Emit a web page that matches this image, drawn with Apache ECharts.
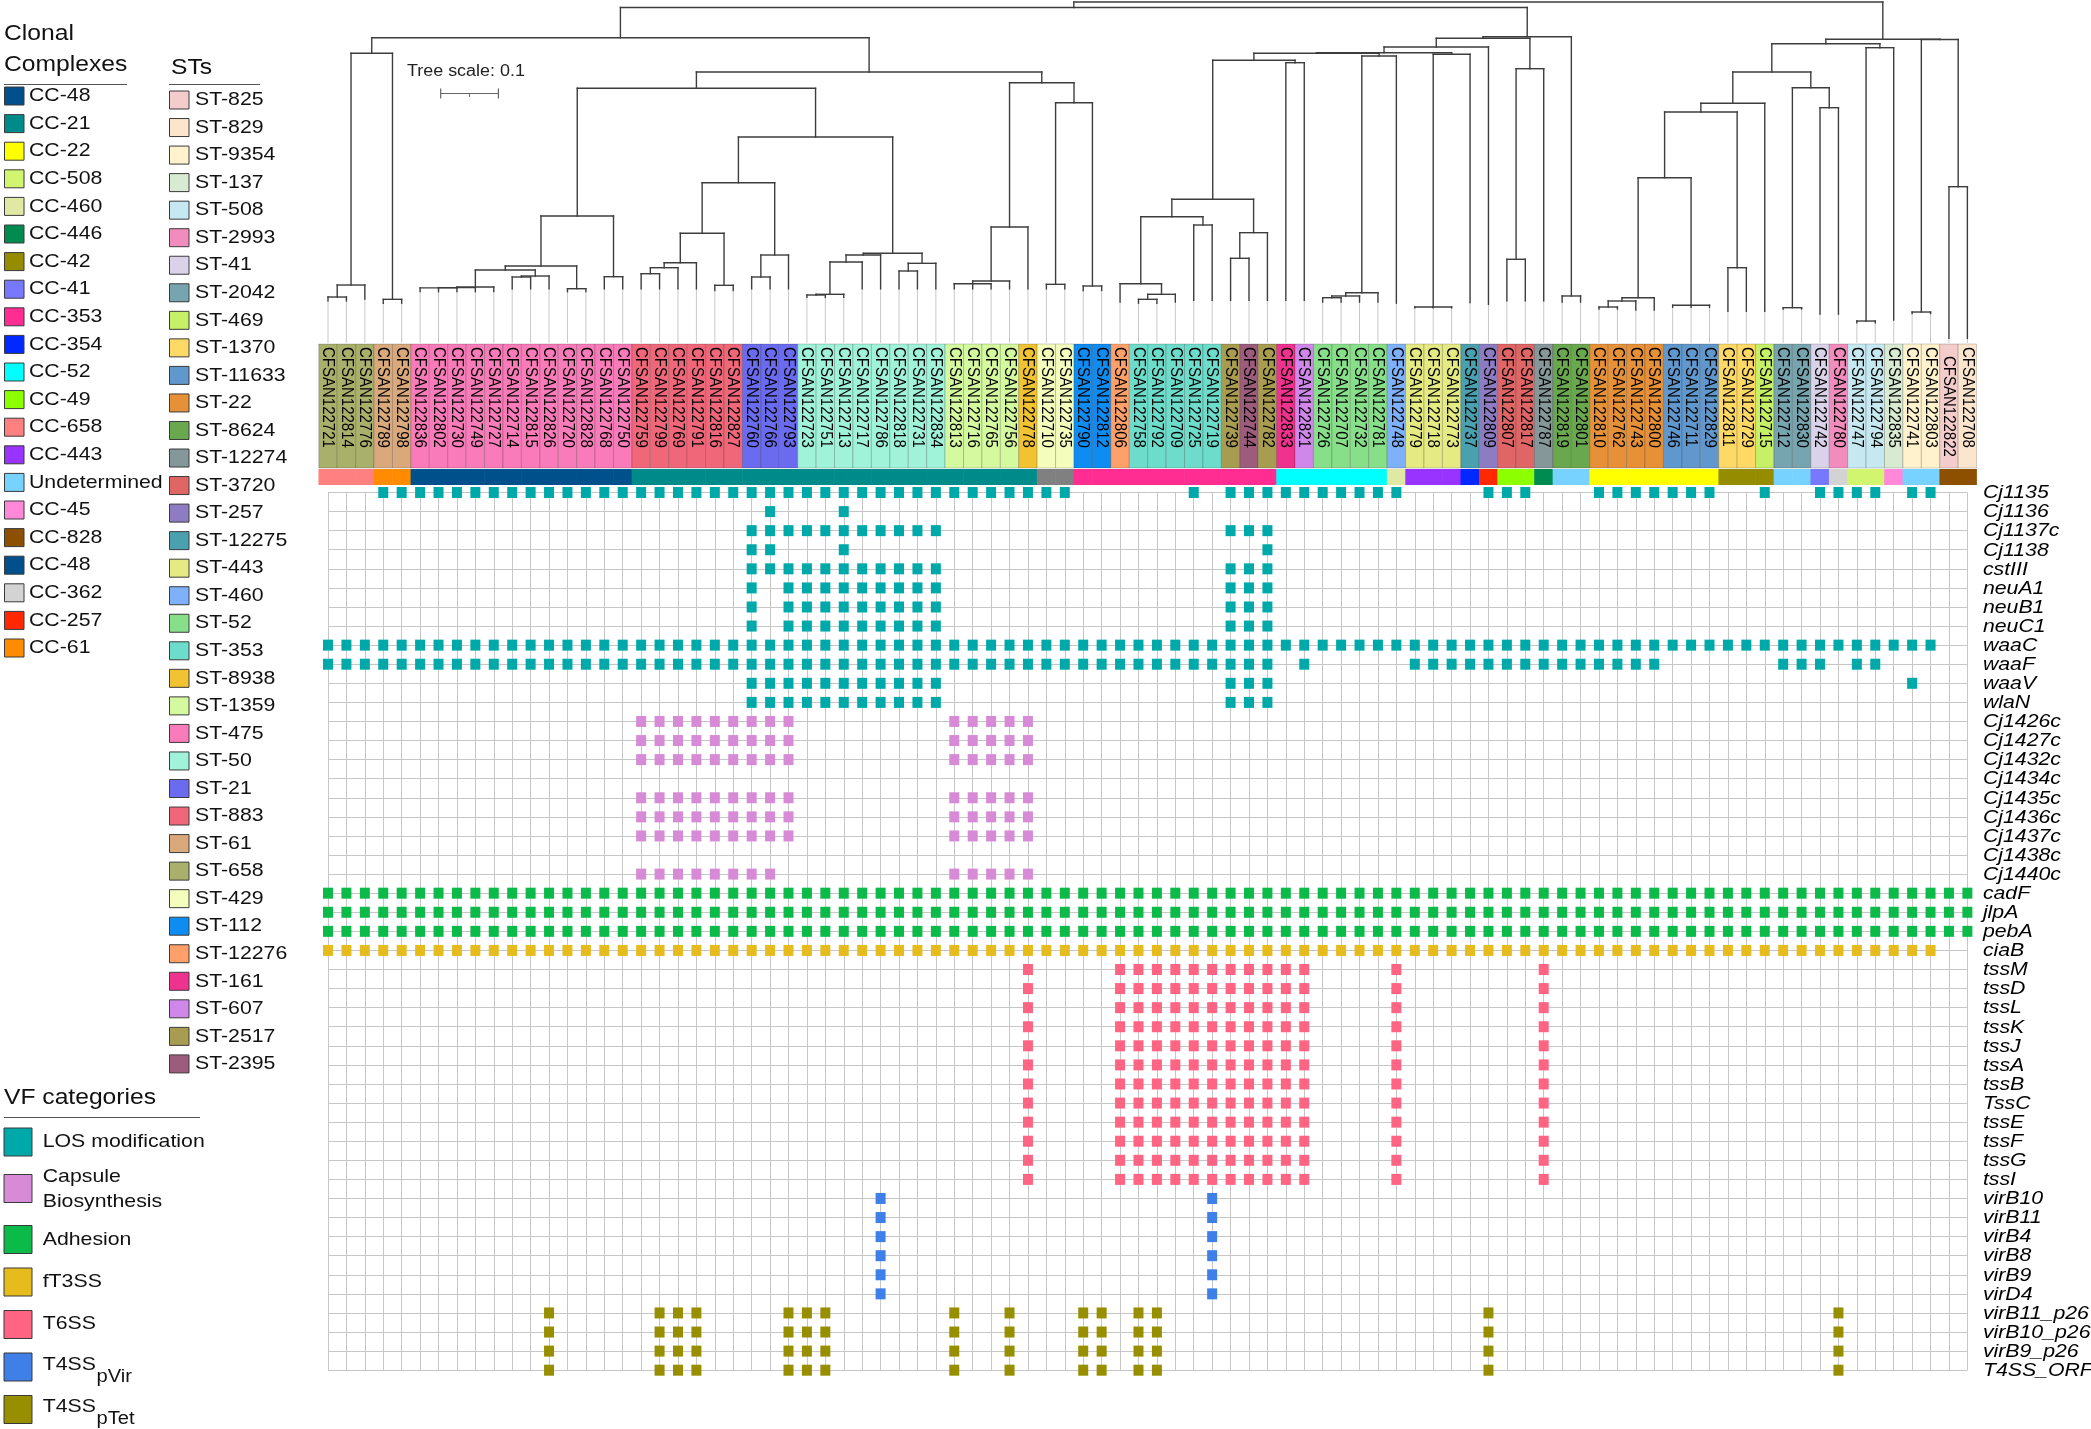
<!DOCTYPE html>
<html><head><meta charset="utf-8">
<script src="https://cdn.jsdelivr.net/npm/echarts@6/dist/echarts.min.js"></script>
<style>html,body{margin:0;padding:0;background:#fff}#c{width:2091px;height:1429px}</style>
</head><body><div id="c"></div>
<script>
// ---------------- DATA ----------------
const samples = ['CFSAN122721','CFSAN122814','CFSAN122776','CFSAN122789','CFSAN122798','CFSAN122836','CFSAN122802','CFSAN122730','CFSAN122749','CFSAN122727',
'CFSAN122714','CFSAN122815','CFSAN122826','CFSAN122720','CFSAN122828','CFSAN122768','CFSAN122750','CFSAN122759','CFSAN122799','CFSAN122769',
'CFSAN122791','CFSAN122816','CFSAN122827','CFSAN122760','CFSAN122766','CFSAN122793','CFSAN122723','CFSAN122751','CFSAN122713','CFSAN122717',
'CFSAN122786','CFSAN122818','CFSAN122731','CFSAN122834','CFSAN122813','CFSAN122716','CFSAN122765','CFSAN122756','CFSAN122778','CFSAN122710',
'CFSAN122735','CFSAN122790','CFSAN122812','CFSAN122806','CFSAN122758','CFSAN122792','CFSAN122709','CFSAN122725','CFSAN122719','CFSAN122739',
'CFSAN122744','CFSAN122782','CFSAN122833','CFSAN122821','CFSAN122726','CFSAN122707','CFSAN122732','CFSAN122781','CFSAN122748','CFSAN122779',
'CFSAN122718','CFSAN122773','CFSAN122737','CFSAN122809','CFSAN122807','CFSAN122817','CFSAN122787','CFSAN122819','CFSAN122801','CFSAN122810',
'CFSAN122762','CFSAN122743','CFSAN122800','CFSAN122746','CFSAN122711','CFSAN122829','CFSAN122811','CFSAN122729','CFSAN122715','CFSAN122712',
'CFSAN122830','CFSAN122742','CFSAN122780','CFSAN122747','CFSAN122794','CFSAN122835','CFSAN122741','CFSAN122803','CFSAN122822','CFSAN122708'];

const sampleST = ['ST-658','ST-658','ST-658','ST-61','ST-61',
'ST-475','ST-475','ST-475','ST-475','ST-475','ST-475','ST-475','ST-475','ST-475','ST-475','ST-475','ST-475',
'ST-883','ST-883','ST-883','ST-883','ST-883','ST-883','ST-21','ST-21','ST-21',
'ST-50','ST-50','ST-50','ST-50','ST-50','ST-50','ST-50','ST-50',
'ST-1359','ST-1359','ST-1359','ST-1359','ST-8938','ST-429','ST-429','ST-112','ST-112','ST-12276',
'ST-353','ST-353','ST-353','ST-353','ST-353','ST-2517','ST-2395','ST-2517','ST-161','ST-607',
'ST-52','ST-52','ST-52','ST-52','ST-460','ST-443','ST-443','ST-443','ST-12275','ST-257',
'ST-3720','ST-3720','ST-12274','ST-8624','ST-8624','ST-22','ST-22','ST-22','ST-22',
'ST-11633','ST-11633','ST-11633','ST-1370','ST-1370','ST-469','ST-2042','ST-2042','ST-41','ST-2993',
'ST-508','ST-508','ST-137','ST-9354','ST-9354','ST-825','ST-829'];

const sampleCC = ['CC-658','CC-658','CC-658','CC-61','CC-61',
'CC-48','CC-48','CC-48','CC-48','CC-48','CC-48','CC-48','CC-48','CC-48','CC-48','CC-48','CC-48',
'CC-21','CC-21','CC-21','CC-21','CC-21','CC-21','CC-21','CC-21','CC-21','CC-21','CC-21',
'CC-21','CC-21','CC-21','CC-21','CC-21','CC-21','CC-21','CC-21','CC-21','CC-21','CC-21',
'none','none',
'CC-353','CC-353','CC-353','CC-353','CC-353','CC-353','CC-353','CC-353','CC-353','CC-353','CC-353',
'CC-52','CC-52','CC-52','CC-52','CC-52','CC-52','CC-460','CC-443','CC-443','CC-443','CC-354','CC-257',
'CC-49','CC-49','CC-446','Undetermined','Undetermined',
'CC-22','CC-22','CC-22','CC-22','CC-22','CC-22','CC-22','CC-42','CC-42','CC-42',
'Undetermined','Undetermined','CC-41','CC-362','CC-508','CC-508','CC-45','Undetermined','Undetermined','CC-828','CC-828'];

const ccLegend = ['CC-48','CC-21','CC-22','CC-508','CC-460','CC-446','CC-42','CC-41','CC-353','CC-354','CC-52','CC-49','CC-658','CC-443','Undetermined','CC-45','CC-828','CC-48','CC-362','CC-257','CC-61'];
const ccColors = ['#00508c','#008b8b','#ffff00','#d2f570','#dfe9a4','#008b50','#968c00','#7878ff','#ff2d92','#0028ff','#00ffff','#8cff00','#ff8080','#9933ff','#78d2ff','#ff88d8','#8c5000','#00508c','#d3d3d3','#ff2800','#ff8c00'];
const ccUnassignedColor = '#808080';

const stLegend = ['ST-825','ST-829','ST-9354','ST-137','ST-508','ST-2993','ST-41','ST-2042','ST-469','ST-1370','ST-11633','ST-22','ST-8624','ST-12274','ST-3720','ST-257','ST-12275','ST-443','ST-460','ST-52','ST-353','ST-8938','ST-1359','ST-475','ST-50','ST-21','ST-883','ST-61','ST-658','ST-429','ST-112','ST-12276','ST-161','ST-607','ST-2517','ST-2395'];
const stColors = ['#f4cccc','#fce5cd','#fff2cc','#d9ead3','#c6e8f0','#f28cbc','#d9d2e9','#76a5af','#c6f065','#ffd966','#6097cd','#e69138','#6aa84f','#86979a','#e06666','#8e7cc3','#4aa0ae','#e6ea82','#7fb1fb','#88df8a','#6edccb','#f1c232','#d5f99f','#f97bb9','#a0f2d9','#6b6bf0','#f1677a','#d9a97c','#a8b06b','#f5fdbc','#0e8cf2','#ffa06b','#f0328f','#cf88ea','#a89c50','#9c5c7c'];

const vfCategories = ['LOS modification','Capsule Biosynthesis','Adhesion','fT3SS','T6SS','T4SSpVir','T4SSpTet'];
const vfColors = ['#00a9a9','#d78bd7','#0cba4a','#e6bb1e','#ff6482','#3f7fe8','#978f00'];

const losGenes = ['Cj1135','Cj1136','Cj1137c','Cj1138','cstIII','neuA1','neuB1','neuC1','waaC','waaF','waaV','wlaN'];
const losPresence = ['3-40,47,49-58,63-65,69-75,78,81-84,86-87','24,28','23-33,49-51','23-24,28,51','23-33,49-51','23,25-33,49-51','23,25-33,49-51','23,25-33,49-51','0-87','0-51,53,59-72,79-81,83-84','23-33,49-51,86','23-33,49-51'];
const capsuleGenes = ['Cj1426c','Cj1427c','Cj1432c','Cj1434c','Cj1435c','Cj1436c','Cj1437c','Cj1438c','Cj1440c'];
const capsulePresence = ['17-25,34-38','17-25,34-38','17-25,34-38','','17-25,34-38','17-25,34-38','17-25,34-38','','17-24,34-38'];
const adhesionGenes = ['cadF','jlpA','pebA'];
const adhesionPresence = ['0-89','0-89','0-89'];
const ft3ssGenes = ['ciaB'];
const ft3ssPresence = ['0-87'];
const t6ssGenes = ['tssM','tssD','tssL','tssK','tssJ','tssA','tssB','TssC','tssE','tssF','tssG','tssI'];
const t6ssPresence = ['38,43-53,58,66','38,43-53,58,66','38,43-53,58,66','38,43-53,58,66','38,43-53,58,66','38,43-53,58,66','38,43-53,58,66','38,43-53,58,66','38,43-53,58,66','38,43-53,58,66','38,43-53,58,66','38,43-53,58,66'];
const pvirGenes = ['virB10','virB11','virB4','virB8','virB9','virD4'];
const pvirPresence = ['30,48','30,48','30,48','30,48','30,48','30,48'];
const ptetGenes = ['virB11_p26','virB10_p26','virB9_p26','T4SS_ORF'];
const ptetPresence = ['12,18-20,25-27,34,37,41-42,44-45,63,82','12,18-20,25-27,34,37,41-42,44-45,63,82','12,18-20,25-27,34,37,41-42,44-45,63,82','12,18-20,25-27,34,37,41-42,44-45,63,82'];

// tree: [nodeDepth, child, child, ...]; a number child is a leaf (column index). depth = distance from root
const tree =
[0.0000,
  [0.0095,
    [0.0619,
      [0.0889, [0.4905, [0.5113, 0, 1], 2], [0.5153, 3, 4]],
      [0.1213,
        [0.1496,
          [0.3709,
            [0.4575,
              [0.4645, [0.4939, [0.4950, [0.4955, 5, 6, 7], 8], 9], [0.4749, [0.4766, 10, 11], 12]],
              [0.4969, 13, 14]],
            [0.4761, 15, 16]],
          [0.2340,
            [0.3132,
              [0.4009, [0.4518, [0.4605, [0.4709, 17, 18], 19], 20], [0.4910, 21, 22]],
              [0.4385, [0.4766, 23, 24], 25]],
            [0.4355,
              [0.4385, [0.4506, [0.5066, [0.5078, 26, 27], 28], 29], 30],
              [0.4529, [0.4662, 31, 32], 33]]]],
        [0.1399,
          [0.3899, [0.4835, [0.4882, 34, 35, 36], 37], 38],
          [0.1745, [0.4893, 39, 40], [0.4922, 41, 42]]]]],
    [0.0601,
      [0.0629,
        [0.0780,
          [0.0879,
            [0.0889,
              [0.1010,
                [0.3419,
                  [0.3721, [0.4882, 43, [0.5066, [0.5153, 44, 45], 46]], [0.3865, 47, 48]],
                  [0.3998, [0.4442, 49, 50], 51]],
                [0.1052, 52, 53]],
              [0.0936, [0.5038, [0.5095, [0.5125, 54, 55], 56], 57], 58]],
            [0.0906, [0.5286, 59, 60, 61], 62]],
          63],
        [0.1156, [0.4459, 64, 65], 66]],
      [0.5095, 67, 68]]],
  [0.0646,
    [0.0723,
      [0.1213,
        [0.1756,
          [0.1906,
            [0.3045, [0.5125, [0.5182, [0.5286, 69, 70], 71], 72], [0.5256, 73, 74, 75]],
            [0.4605, 76, 77]],
          78],
        [0.1485, [0.5298, 79, 80], [0.1832, 81, 82]]],
      [0.0792, [0.5529, 83, 84], 85]],
    [0.0650, [0.5373, 86, 87], [0.3201, 88, 89]]]];

const leafTipDepth = [0.518,0.518,0.515,0.522,0.522,0.502,0.502,0.502,0.502,0.502,
0.497,0.497,0.497,0.502,0.502,0.497,0.497,0.497,0.497,0.497,
0.497,0.500,0.500,0.497,0.497,0.497,0.512,0.512,0.512,0.497,
0.497,0.497,0.497,0.497,0.497,0.497,0.497,0.497,0.497,0.497,
0.497,0.500,0.500,0.520,0.522,0.522,0.520,0.517,0.517,0.517,
0.517,0.517,0.517,0.517,0.520,0.520,0.520,0.520,0.522,0.530,
0.530,0.530,0.521,0.524,0.518,0.518,0.518,0.520,0.520,0.532,
0.532,0.534,0.534,0.529,0.529,0.529,0.536,0.536,0.536,0.532,
0.532,0.541,0.541,0.556,0.556,0.551,0.540,0.540,0.583,0.583];

const treeScaleValue = 0.1;

// ---------------- LAYOUT ----------------
const FONT = 'Liberation Sans, Arial, sans-serif';
const SX = 1.12;               // horizontal stretch of the original figure's text
const COL0 = 328, COLW = 18.42, NCOL = samples.length;
const ROW0 = 492.5, ROWH = 19.08;
const TREE_TOP = 2, TREE_PX_PER_UNIT = 577, TREE_MAX = 0.59;

function parseRanges(s) {
  const out = [];
  if (!s) return out;
  s.split(',').forEach(p => {
    const ab = p.split('-').map(Number);
    if (ab.length === 1) out.push(ab[0]);
    else for (let i = ab[0]; i <= ab[1]; i++) out.push(i);
  });
  return out;
}

const catDefs = [
  [losGenes, losPresence], [capsuleGenes, capsulePresence], [adhesionGenes, adhesionPresence],
  [ft3ssGenes, ft3ssPresence], [t6ssGenes, t6ssPresence], [pvirGenes, pvirPresence], [ptetGenes, ptetPresence]
];
const genes = [].concat(...catDefs.map(c => c[0]));

// tree segments
const branchSegs = [], leaderSegs = [];
function layoutTree(node, parentDepth) {
  if (typeof node === 'number') {
    const tip = leafTipDepth[node];
    branchSegs.push([node, parentDepth, node, tip]);
    leaderSegs.push([node, tip, node, TREE_MAX]);
    return node;
  }
  const d = node[0];
  const xs = node.slice(1).map(ch => layoutTree(ch, d));
  const x = (xs[0] + xs[xs.length - 1]) / 2;
  branchSegs.push([xs[0], d, xs[xs.length - 1], d]);
  if (parentDepth !== null) branchSegs.push([x, parentDepth, x, d]);
  return x;
}
layoutTree(tree, null);

function segSeries(data, color, width, z) {
  return {
    type: 'custom', xAxisIndex: 0, yAxisIndex: 0, silent: true, z: z,
    dimensions: ['x1', 'y1', 'x2', 'y2'], encode: { x: [0, 2], y: [1, 3] },
    data: data,
    renderItem: function (params, api) {
      const a = api.coord([api.value(0), api.value(1)]);
      const b = api.coord([api.value(2), api.value(3)]);
      return { type: 'line', shape: { x1: a[0], y1: a[1], x2: b[0], y2: b[1] },
        style: { stroke: color, lineWidth: width, lineCap: 'square' } };
    }
  };
}

const stColorOf = st => stColors[stLegend.indexOf(st)];
const ccColorOf = cc => { const i = ccLegend.indexOf(cc); return i < 0 ? ccUnassignedColor : ccColors[i]; };

const series = [
  segSeries(leaderSegs, '#c8c8c8', 1, 1),
  segSeries(branchSegs, '#3d3d3d', 1.4, 2),
  { // ST label cells with sample names
    type: 'custom', xAxisIndex: 1, yAxisIndex: 1, silent: true, z: 0,
    data: samples.map((s, i) => [i, 0]),
    renderItem: function (params, api) {
      const i = params.dataIndex;
      const p = api.coord([api.value(0), api.value(1)]);
      const sz = api.size([1, 1]);
      const textOffset = (i === NCOL - 2) ? 12 : 3;
      return { type: 'group', children: [
        { type: 'rect', shape: { x: p[0] - sz[0] / 2, y: p[1] - sz[1] / 2, width: sz[0], height: sz[1] },
          style: { fill: stColorOf(sampleST[i]), stroke: 'rgba(0,0,0,0.18)', lineWidth: 1 } },
        { type: 'text', x: p[0], y: p[1] - sz[1] / 2 + textOffset, rotation: -Math.PI / 2, scaleY: 1.15,
          style: { text: samples[i], fontSize: 15, fontFamily: FONT, fill: '#000', align: 'left', verticalAlign: 'middle' } }
      ] };
    }
  },
  { // CC strip
    type: 'custom', xAxisIndex: 2, yAxisIndex: 2, silent: true,
    data: samples.map((s, i) => [i, 0]),
    renderItem: function (params, api) {
      const i = params.dataIndex;
      const p = api.coord([api.value(0), api.value(1)]);
      const sz = api.size([1, 1]);
      return { type: 'rect', shape: { x: p[0] - sz[0] / 2 - 0.3, y: p[1] - sz[1] / 2, width: sz[0] + 0.6, height: sz[1] },
        style: { fill: ccColorOf(sampleCC[i]) } };
    }
  },
  { // gene labels on the right
    type: 'custom', xAxisIndex: 3, yAxisIndex: 3, silent: true,
    data: genes.map((g, i) => [NCOL - 1, i]),
    renderItem: function (params, api) {
      const p = api.coord([api.value(0), api.value(1)]);
      return { type: 'text', x: p[0] + 15.5, y: p[1] + 0.5, scaleX: SX,
        style: { text: genes[params.dataIndex], fontSize: 19, fontStyle: 'italic', fontFamily: FONT, fill: '#000',
          align: 'left', verticalAlign: 'middle' } };
    }
  }
];

catDefs.forEach((c, k) => {
  const data = [];
  c[0].forEach((g, j) => {
    const row = genes.indexOf(g);
    parseRanges(c[1][j]).forEach(col => data.push([col, row]));
  });
  series.push({ type: 'scatter', name: vfCategories[k], xAxisIndex: 3, yAxisIndex: 3, silent: true,
    symbol: 'rect', symbolSize: [10, 11], itemStyle: { color: vfColors[k], opacity: 1 }, data: data, z: 3 });
});

const hidden = { show: false };
const stripW = COLW * NCOL, stripL = COL0 - COLW / 2;
const option = {
  animation: false,
  backgroundColor: '#ffffff',
  grid: [
    { left: stripL, width: stripW, top: TREE_TOP, height: TREE_MAX * TREE_PX_PER_UNIT, outerBoundsMode: 'none' },
    { left: stripL, width: stripW, top: 344, height: 124, outerBoundsMode: 'none' },
    { left: stripL, width: stripW, top: 469, height: 16, outerBoundsMode: 'none' },
    { left: COL0, width: COLW * (NCOL - 1), top: ROW0, height: ROWH * (genes.length - 1), outerBoundsMode: 'none' }
  ],
  xAxis: [
    { gridIndex: 0, type: 'value', min: -0.5, max: NCOL - 0.5, show: false },
    { gridIndex: 1, type: 'category', data: samples, boundaryGap: true, show: false },
    { gridIndex: 2, type: 'category', data: samples, boundaryGap: true, show: false },
    { gridIndex: 3, type: 'category', data: samples, boundaryGap: false,
      axisLine: hidden, axisTick: hidden, axisLabel: hidden,
      splitLine: { show: true, interval: 0, lineStyle: { color: '#c6c6c6', width: 1 } } }
  ],
  yAxis: [
    { gridIndex: 0, type: 'value', min: 0, max: TREE_MAX, inverse: true, show: false },
    { gridIndex: 1, type: 'category', data: ['ST'], show: false },
    { gridIndex: 2, type: 'category', data: ['CC'], show: false },
    { gridIndex: 3, type: 'category', data: genes, inverse: true, boundaryGap: false,
      axisLine: hidden, axisTick: hidden, axisLabel: hidden,
      splitLine: { show: true, interval: 0, lineStyle: { color: '#c6c6c6', width: 1 } } }
  ],
  series: series
};

const chart = echarts.init(document.getElementById('c'), null, { renderer: 'canvas' });
chart.setOption(option);

// ---------------- LEGENDS / ANNOTATIONS ----------------
const g = [];
function txt(x, y, s, size, extra) {
  g.push(Object.assign({ type: 'text', x: x, y: y, scaleX: SX, silent: true,
    style: Object.assign({ text: s, fontSize: size, fontFamily: FONT, fill: '#111', align: 'left', verticalAlign: 'middle' }, extra || {}) }));
}
function box(x, yc, w, h, color) {
  g.push({ type: 'rect', silent: true, shape: { x: x, y: yc - h / 2, width: w, height: h },
    style: { fill: color, stroke: '#3a3a3a', lineWidth: 1 } });
}
function hline(x1, x2, y, color) {
  g.push({ type: 'line', silent: true, shape: { x1: x1, y1: y, x2: x2, y2: y }, style: { stroke: color || '#555', lineWidth: 1 } });
}

// Clonal complexes
txt(4, 34, 'Clonal', 22);
txt(4, 65, 'Complexes', 22);
hline(4, 127, 84.5);
ccLegend.forEach((n, i) => {
  const y = 96 + 27.6 * i;
  box(4.5, y, 19.5, 18, ccColors[i]);
  txt(29, y, n, 19);
});
// STs
txt(171, 68, 'STs', 22);
hline(169, 260, 84.5);
stLegend.forEach((n, i) => {
  const y = 100 + 27.54 * i;
  box(169.5, y, 19.5, 18, stColors[i]);
  txt(195, y, n, 19);
});
// VF categories
txt(4, 1098, 'VF categories', 22);
hline(4, 200, 1117.5);
const vfY = [1142, 1188.5, 1239.5, 1282, 1324.5, 1367, 1409.5];
vfCategories.forEach((n, i) => {
  box(4, vfY[i], 28, 28, vfColors[i]);
});
txt(42.7, 1142, 'LOS modification', 19);
txt(42.7, 1176.7, 'Capsule', 19);
txt(42.7, 1201.7, 'Biosynthesis', 19);
txt(42.7, 1240, 'Adhesion', 19);
txt(42.7, 1282, 'fT3SS', 19);
txt(42.7, 1324, 'T6SS', 19);
txt(42.7, 1365, 'T4SS', 19);
txt(96.5, 1377, 'pVir', 18);
txt(42.7, 1407, 'T4SS', 19);
txt(96.5, 1419, 'pTet', 18);

// tree scale bar (length = 0.1 tree units through the tree axis)
const p0 = chart.convertToPixel({ gridIndex: 0 }, [0, 0]);
const p1 = chart.convertToPixel({ gridIndex: 0 }, [0, treeScaleValue]);
const barLen = Math.abs(p1[1] - p0[1]);
txt(407, 71.5, 'Tree scale: ' + treeScaleValue, 16, { fill: '#222' });
const bx = 440.7, by = 93.5;
g.push({ type: 'line', silent: true, shape: { x1: bx, y1: by, x2: bx + barLen, y2: by }, style: { stroke: '#666', lineWidth: 1.2 } });
g.push({ type: 'line', silent: true, shape: { x1: bx, y1: by - 5, x2: bx, y2: by + 5 }, style: { stroke: '#666', lineWidth: 1.2 } });
g.push({ type: 'line', silent: true, shape: { x1: bx + barLen, y1: by - 5, x2: bx + barLen, y2: by + 5 }, style: { stroke: '#666', lineWidth: 1.2 } });
g.push({ type: 'line', silent: true, shape: { x1: bx + barLen / 2, y1: by, x2: bx + barLen / 2, y2: by + 3.5 }, style: { stroke: '#666', lineWidth: 1 } });

chart.setOption({ graphic: g });
</script>
</body></html>
